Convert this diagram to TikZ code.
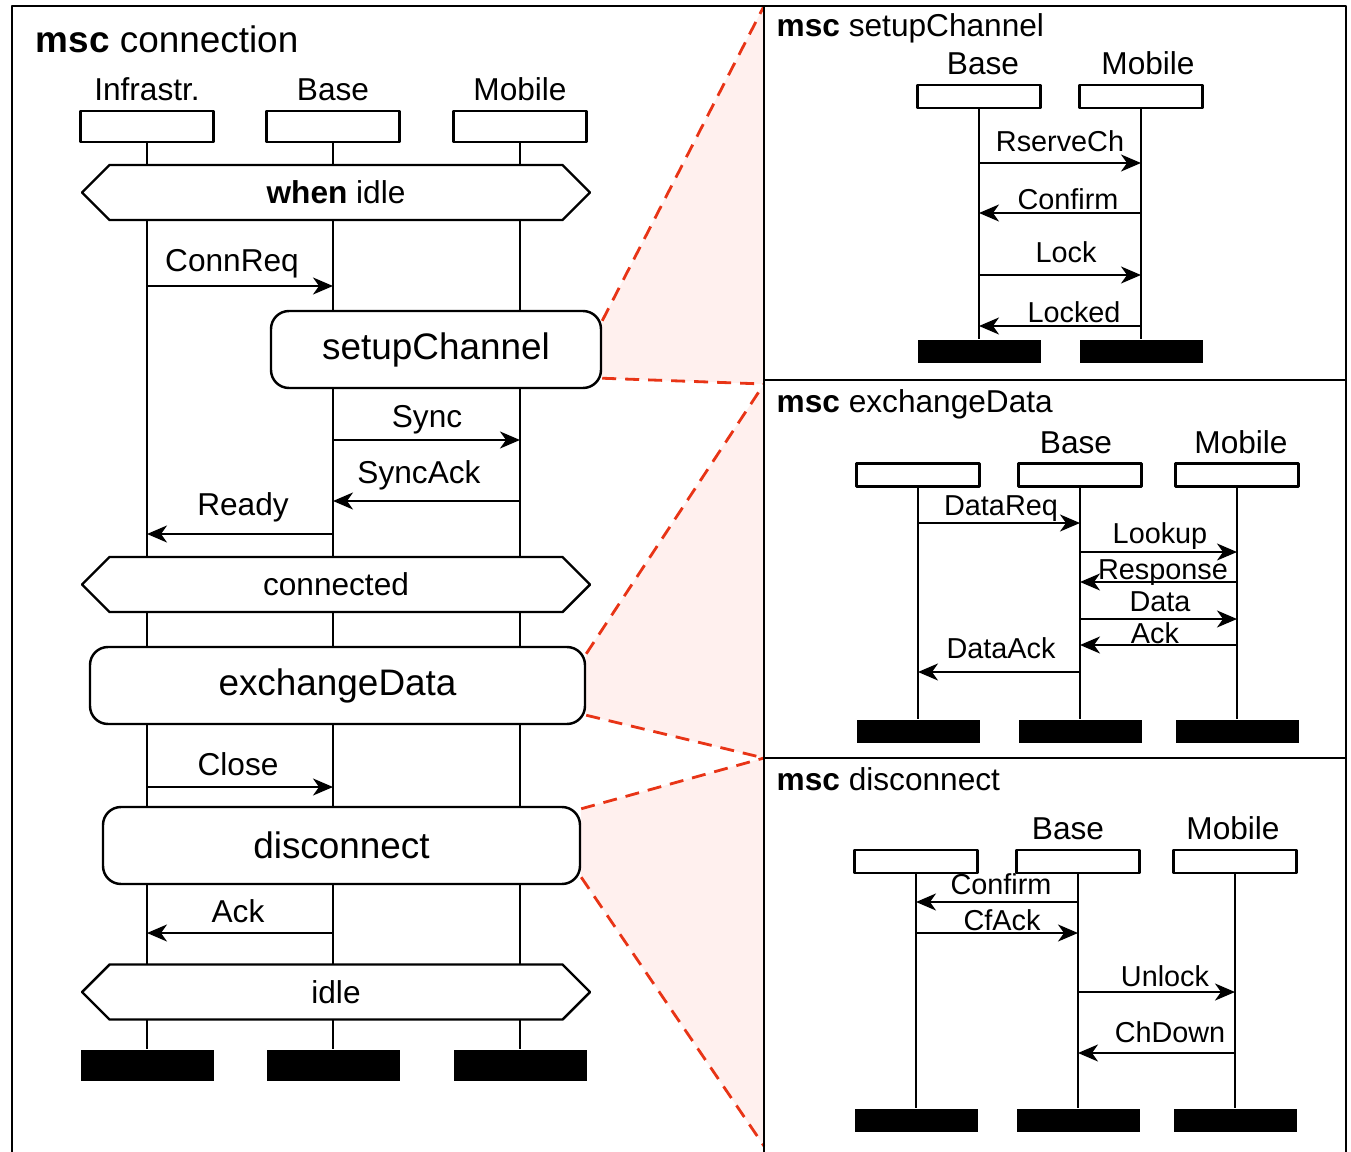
\documentclass[tikz,border=0pt]{standalone}
\usepackage{fontspec}
\setmainfont{Liberation Sans}
\usetikzlibrary{arrows.meta,shapes.symbols,backgrounds}
\definecolor{fanred}{RGB}{232,52,22}
\definecolor{fanpink}{RGB}{255,240,238}
\tikzset{
  life/.style={line width=.8pt},
  msg/.style={line width=.6pt,->},
  head/.style={draw,line width=.7pt,fill=white,minimum width=1.33cm,minimum height=.31cm,inner sep=0pt},
  bar/.style={fill=black,minimum width=1.33cm,minimum height=.31cm,inner sep=0pt},
  shead/.style={head,minimum width=1.23cm,minimum height=.23cm},
  sbar/.style={bar,minimum width=1.23cm,minimum height=.23cm},
  cond/.style={signal,signal to=east and west,draw,fill=white,line width=.7pt,minimum width=5.08cm,minimum height=.55cm,inner sep=0pt},
  ref/.style={draw,fill=white,rounded corners=.18cm,line width=.7pt,minimum height=.77cm,font=\fontsize{10.5}{12}\selectfont},
  fan/.style={fanred,line width=.8pt,dash pattern=on .14cm off .09cm},
  title/.style={anchor=base west,inner sep=0pt},
  lname/.style={font=\fontsize{9}{10.5}\selectfont,label distance=-1pt}
}
\begin{document}
\begin{tikzpicture}[>={Stealth[length=2mm,width=1.7mm,inset=.6mm]},line join=round,font=\fontsize{9}{10.5}\selectfont]
\useasboundingbox (0,0) rectangle (13.51,-11.52);
%frames
\draw[line width=.6pt] (.12,-11.7)--(.12,-.06)--(13.46,-.06)--(13.46,-11.7)
  (7.64,-.06)--(7.64,-11.7) (7.64,-3.80)--(13.46,-3.80) (7.64,-7.58)--(13.46,-7.58);
\path (7.64,-.06) coordinate (r0) (7.64,-3.84) coordinate (r1)
  (7.64,-7.58) coordinate (r2) (7.64,-11.46) coordinate (r3);
\node[title,font=\fontsize{10.5}{12}\selectfont] (T0) at (.35,-.53) {\textbf{msc} connection};
\node[title] (T1) at (7.76,-.37) {\textbf{msc} setupChannel};
\node[title] (T2) at (7.76,-4.12) {\textbf{msc} exchangeData};
\node[title] (T3) at (7.76,-7.90) {\textbf{msc} disconnect};

%msc connection
\foreach \n/\x/\t in {I/1.47/Infrastr.,B/3.33/Base,M/5.20/Mobile}{
  \node[head,label={[lname]above:\t}] (\n0) at (\x,-1.265) {};
  \node[bar] (\n9) at (\x,-10.655) {};
  \draw[life] (\n0)--(\n9);}
\node[cond] (C1) at (3.36,-1.925) {\textbf{when} idle};
\node[cond] (C2) at (3.36,-5.845) {connected};
\node[cond] (C3) at (3.36,-9.92) {idle};
\node[ref,minimum width=3.30cm] (S) at (4.36,-3.495) {setupChannel};
\node[ref,minimum width=4.95cm] (E) at (3.375,-6.855) {exchangeData};
\node[ref,minimum width=4.77cm] (D) at (3.415,-8.455) {disconnect};
\foreach \a/\b/\y/\t/\lx/\ly in {I0/B0/2.86/ConnReq/2.32/2.71,B0/M0/4.40/Sync/4.27/4.27,
  M0/B0/5.01/SyncAck/4.19/4.83,B0/I0/5.34/Ready/2.43/5.15,I0/B0/7.87/Close/2.38/7.75,
  B0/I0/9.33/Ack/2.38/9.22}{
  \node[anchor=base] (l\t) at (\lx,-\ly) {\t};
  \draw[msg] (\a |- 0,-\y)--(\b |- 0,-\y);}

%zoom fans
\begin{scope}[on background layer]
\fill[fanpink] ([yshift=-.11cm]S.north east)--(r0)--(r1)--([yshift=.11cm]S.south east)--cycle;
\fill[fanpink] ([yshift=-.08cm]E.north east)--(r1)--(r2)--([yshift=.1cm]E.south east)--cycle;
\fill[fanpink] ([yshift=-.03cm]D.north east)--(r2)--(r3)--([yshift=.08cm]D.south east)--cycle;
\draw[fan] ([yshift=-.11cm]S.north east)--(r0) ([yshift=.11cm]S.south east)--(r1);
\draw[fan] ([yshift=-.08cm]E.north east)--(r1) ([yshift=.1cm]E.south east)--(r2);
\draw[fan] ([yshift=-.03cm]D.north east)--(r2) ([yshift=.08cm]D.south east)--(r3);
\end{scope}

\begin{scope}[every node/.style={font=\fontsize{8.2}{9.5}\selectfont}]
%msc setupChannel
\foreach \n/\x/\t/\s in {P1/9.79/Base/.04,P2/11.41/Mobile/.07}{
  \node[shead,label={[lname,xshift=\s cm]above:\t}] (\n) at (\x,-.965) {};
  \node[sbar] (e\n) at (\x,-3.515) {};
  \draw[life] (\n)--(e\n);}
\foreach \a/\b/\y/\t/\lx/\ly in {P1/P2/1.63/RserveCh/10.60/1.52,P2/P1/2.13/Confirm/10.68/2.10,
  P1/P2/2.75/Lock/10.66/2.63,P2/P1/3.26/Locked/10.74/3.22}{
  \node[anchor=base] (p\t) at (\lx,-\ly) {\t};
  \draw[msg] (\a |- 0,-\y)--(\b |- 0,-\y);}

%msc exchangeData
\foreach \n/\x/\t/\s in {Q1/9.18//0,Q2/10.80/Base/-.04,Q3/12.37/Mobile/.04}{
  \node[shead,label={[lname,xshift=\s cm]above:\t}] (\n) at (\x,-4.75) {};
  \node[sbar] (e\n) at (\x,-7.31) {};
  \draw[life] (\n)--(e\n);}
\foreach \a/\b/\y/\t/\lx/\ly in {Q1/Q2/5.23/DataReq/10.01/5.15,Q2/Q3/5.52/Lookup/11.60/5.43,
  Q3/Q2/5.82/Response/11.63/5.79,Q2/Q3/6.19/Data/11.60/6.11,Q3/Q2/6.45/Ack/11.55/6.43,
  Q2/Q1/6.72/DataAck/10.01/6.58}{
  \node[anchor=base] (q\t) at (\lx,-\ly) {\t};
  \draw[msg] (\a |- 0,-\y)--(\b |- 0,-\y);}

%msc disconnect
\foreach \n/\x/\t/\s in {R1/9.16//0,R2/10.78/Base/-.10,R3/12.35/Mobile/-.02}{
  \node[shead,label={[lname,xshift=\s cm]above:\t}] (\n) at (\x,-8.615) {};
  \node[sbar] (e\n) at (\x,-11.20) {};
  \draw[life] (\n)--(e\n);}
\foreach \a/\b/\y/\t/\lx/\ly in {R2/R1/9.02/Confirm/10.01/8.94,R1/R2/9.33/CfAck/10.02/9.30,
  R2/R3/9.92/Unlock/11.65/9.86,R3/R2/10.53/ChDown/11.70/10.42}{
  \node[anchor=base] (r\t) at (\lx,-\ly) {\t};
  \draw[msg] (\a |- 0,-\y)--(\b |- 0,-\y);}
\end{scope}
\end{tikzpicture}
\end{document}
